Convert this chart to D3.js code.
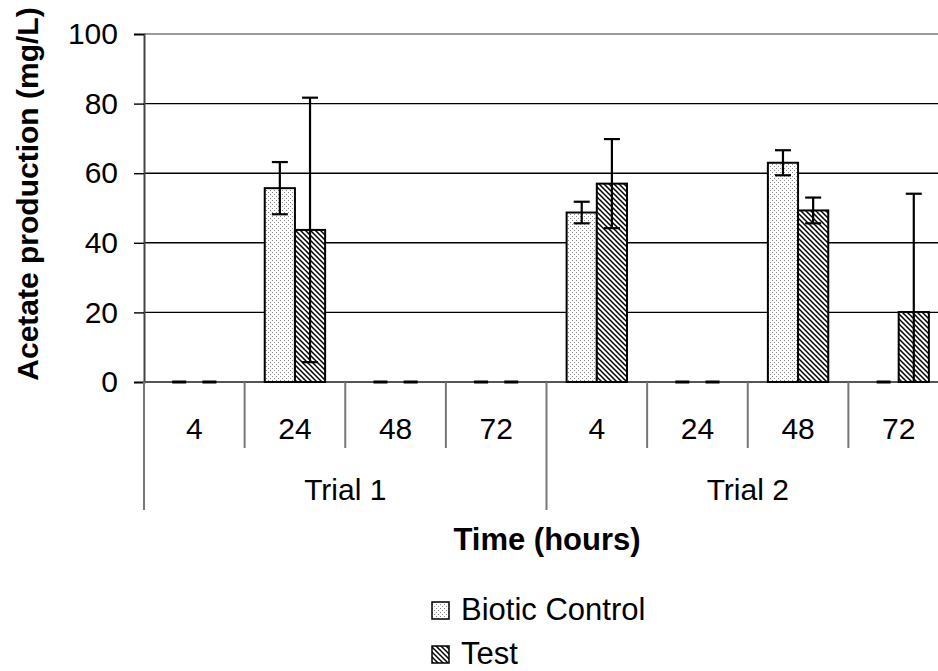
<!DOCTYPE html>
<html>
<head>
<meta charset="utf-8">
<script src="https://cdn.jsdelivr.net/npm/d3@7"></script>
<style>
  html, body { margin: 0; padding: 0; background: #fff; }
  svg { display: block; font-family: "Liberation Sans", Arial, sans-serif; }
</style>
</head>
<body>
<svg id="chart" width="938" height="671"></svg>
<script>
// ---- data ----
const trials = ["Trial 1", "Trial 2"];
const times = ["4", "24", "48", "72"];
const seriesNames = ["Biotic Control", "Test"];
const bioticValues = [0, 55.7, 0, 0, 48.7, 0, 63.0, 0];
const bioticErrors = [0, 7.5, 0, 0, 3.1, 0, 3.6, 0];
const testValues = [0, 43.7, 0, 0, 57.0, 0, 49.3, 20.1];
const testErrors = [0, 38.0, 0, 0, 12.8, 0, 3.7, 34.0];
const yTicks = [0, 20, 40, 60, 80, 100];

// ---- layout ----
const svg = d3.select("#chart");
const plotLeft = 144, plotRight = 949, plotTop = 34, plotBottom = 382;
const FS = 30;

const cats = [];
trials.forEach((t, ti) => times.forEach((h, hi) => cats.push({ key: ti + "-" + h, trial: t, time: h })));

const x0 = d3.scaleBand().domain(cats.map(c => c.key)).range([plotLeft, plotRight]).padding(0);
const bw = x0.bandwidth();
const x1 = d3.scaleBand().domain(seriesNames).range([bw * 0.2, bw * 0.8]).padding(0);
const y = d3.scaleLinear().domain([0, 100]).range([plotBottom, plotTop]);

// ---- patterns ----
const defs = svg.append("defs");
const dots = defs.append("pattern").attr("id", "dots").attr("patternUnits", "userSpaceOnUse")
  .attr("width", 4).attr("height", 4);
dots.append("rect").attr("width", 4).attr("height", 4).attr("fill", "#fff");
dots.append("rect").attr("x", 0).attr("y", 0).attr("width", 1).attr("height", 1).attr("fill", "#8a8a8a");
dots.append("rect").attr("x", 2).attr("y", 2).attr("width", 1).attr("height", 1).attr("fill", "#8a8a8a");

const hatch = defs.append("pattern").attr("id", "hatch").attr("patternUnits", "userSpaceOnUse")
  .attr("width", 5).attr("height", 5);
hatch.append("rect").attr("width", 5).attr("height", 5).attr("fill", "#fff");
hatch.append("path").attr("d", "M-1,-1 L6,6 M-1,4 L1,6 M4,-1 L6,1")
  .attr("stroke", "#000").attr("stroke-width", 1.5);

const fills = { "Biotic Control": "url(#dots)", "Test": "url(#hatch)" };

// ---- gridlines ----
const grid = svg.append("g");
yTicks.filter(v => v > 0).forEach(v => {
  grid.append("line").attr("x1", plotLeft).attr("x2", plotRight).attr("y1", y(v)).attr("y2", y(v))
    .attr("stroke", v === 100 ? "#9a9a9a" : "#000").attr("stroke-width", v === 100 ? 2 : 1.4);
});

// ---- y axis ----
const yAxis = d3.axisLeft(y).tickValues(yTicks).tickSize(10).tickPadding(16);
const yg = svg.append("g").attr("transform", `translate(${plotLeft},0)`).call(yAxis);
yg.select(".domain").attr("stroke", "#444").attr("stroke-width", 2);
yg.selectAll(".tick line").attr("stroke", "#000").attr("stroke-width", 1.4);
yg.selectAll(".tick text").attr("font-size", FS).attr("fill", "#000")
  .attr("font-family", "'Liberation Sans', Arial, sans-serif");

// ---- x axis: category structure ----
const xg = svg.append("g");
xg.append("line").attr("x1", plotLeft).attr("x2", plotRight).attr("y1", plotBottom).attr("y2", plotBottom)
  .attr("stroke", "#555").attr("stroke-width", 2);
cats.forEach((c, i) => {
  const xb = x0(c.key);
  const isTrialEdge = i % times.length === 0;
  xg.append("line").attr("x1", xb).attr("x2", xb).attr("y1", plotBottom)
    .attr("y2", isTrialEdge ? 510 : 448).attr("stroke", "#777").attr("stroke-width", 2);
});
xg.append("line").attr("x1", plotRight).attr("x2", plotRight).attr("y1", plotBottom).attr("y2", 510)
  .attr("stroke", "#777").attr("stroke-width", 2);
xg.selectAll("text.time").data(cats).join("text").attr("class", "time")
  .attr("x", d => x0(d.key) + bw / 2).attr("y", 439)
  .attr("text-anchor", "middle").attr("font-size", FS).text(d => d.time);
trials.forEach((t, ti) => {
  const first = x0(ti + "-" + times[0]);
  const last = x0(ti + "-" + times[times.length - 1]) + bw;
  xg.append("text").attr("x", (first + last) / 2).attr("y", 500)
    .attr("text-anchor", "middle").attr("font-size", FS).text(t);
});

// ---- bars ----
const barData = [];
cats.forEach((c, i) => {
  barData.push({ cat: c.key, s: seriesNames[0], v: bioticValues[i], e: bioticErrors[i] });
  barData.push({ cat: c.key, s: seriesNames[1], v: testValues[i], e: testErrors[i] });
});
const bars = svg.append("g");
barData.forEach(d => {
  const bx = x0(d.cat) + x1(d.s);
  const bwid = x1.bandwidth();
  if (d.v > 0) {
    bars.append("rect").attr("x", bx).attr("y", y(d.v)).attr("width", bwid)
      .attr("height", y(0) - y(d.v)).attr("fill", fills[d.s])
      .attr("stroke", "#000").attr("stroke-width", 2);
  } else {
    const cx = bx + bwid / 2;
    bars.append("line").attr("x1", cx - 7).attr("x2", cx + 7).attr("y1", y(0)).attr("y2", y(0))
      .attr("stroke", "#000").attr("stroke-width", 3);
  }
});

// ---- error bars ----
const eg = svg.append("g");
barData.filter(d => d.e > 0).forEach(d => {
  const cx = x0(d.cat) + x1(d.s) + x1.bandwidth() / 2;
  const hi = d.v + d.e, lo = Math.max(0, d.v - d.e);
  eg.append("line").attr("x1", cx).attr("x2", cx).attr("y1", y(hi)).attr("y2", y(lo))
    .attr("stroke", "#000").attr("stroke-width", 2.2);
  eg.append("line").attr("x1", cx - 8).attr("x2", cx + 8).attr("y1", y(hi)).attr("y2", y(hi))
    .attr("stroke", "#000").attr("stroke-width", 2.2);
  if (d.v - d.e > 0) {
    eg.append("line").attr("x1", cx - 8).attr("x2", cx + 8).attr("y1", y(lo)).attr("y2", y(lo))
      .attr("stroke", "#000").attr("stroke-width", 2.2);
  }
});

// ---- axis titles ----
svg.append("text").attr("transform", `translate(38,194) rotate(-90)`)
  .attr("text-anchor", "middle").attr("font-size", FS).attr("font-weight", "bold")
  .text("Acetate production (mg/L)");
svg.append("text").attr("x", 547).attr("y", 550).attr("text-anchor", "middle")
  .attr("font-size", 31).attr("font-weight", "bold").text("Time (hours)");

// ---- legend ----
const lg = svg.append("g");
seriesNames.forEach((s, i) => {
  const yy = 602 + i * 44;
  lg.append("rect").attr("x", 432).attr("y", yy).attr("width", 17).attr("height", 17)
    .attr("fill", fills[s]).attr("stroke", "#000").attr("stroke-width", 1.5);
  lg.append("text").attr("x", 461).attr("y", yy + 18).attr("font-size", 31).text(s);
});
</script>
</body>
</html>
